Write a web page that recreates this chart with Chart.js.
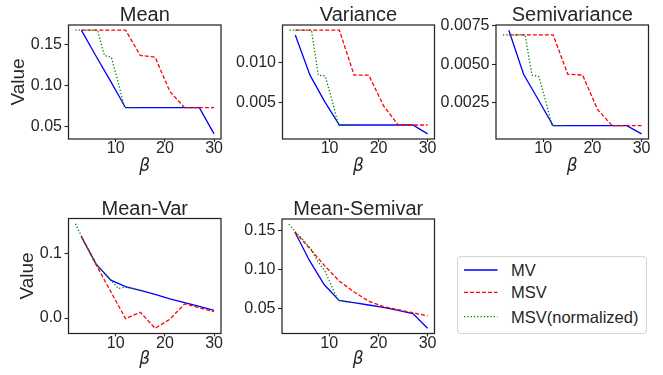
<!DOCTYPE html>
<html>
<head>
<meta charset="utf-8">
<script src="https://cdn.jsdelivr.net/npm/chart.js@4.4.1/dist/chart.umd.min.js"></script>
<style>
  body { margin: 0; background: #fff; width: 663px; height: 375px; position: relative; overflow: hidden; }
  canvas { position: absolute; }
  #legend { position: absolute; left: 457px; top: 256px; }
</style>
</head>
<body>
<svg id="legend" width="190" height="78"></svg>
<script>
// x values: beta grid for MV / MSV, and the (halved) grid for the normalized MSV
const betaGrid = [3, 6, 9, 12, 15, 18, 21, 24, 27, 30];
const betaNormGrid = [1.8, 3.3, 4.8, 6.3, 7.7, 9.1, 10.5, 11.8, 13.3, 14.8];
const seriesNames = ['MV', 'MSV', 'MSV(normalized)'];
const xTicks = [10, 20, 30];

// Mean
const meanMV   = [0.168, 0.136, 0.105, 0.073, 0.073, 0.073, 0.073, 0.073, 0.073, 0.041];
const meanMSV  = [0.168, 0.168, 0.168, 0.168, 0.137, 0.135, 0.093, 0.073, 0.073, 0.073];
const meanNorm = [0.168, 0.168, 0.168, 0.168, 0.137, 0.135, 0.104, 0.073, 0.073, 0.073];
const meanTicks = [0.05, 0.10, 0.15];

// Variance
const varMV   = [0.0134, 0.0084, 0.0051, 0.0022, 0.0022, 0.0022, 0.0022, 0.0022, 0.0022, 0.0011];
const varMSV  = [0.0140, 0.0140, 0.0140, 0.0140, 0.0084, 0.0084, 0.0046, 0.0022, 0.0022, 0.0022];
const varNorm = [0.0140, 0.0140, 0.0140, 0.0140, 0.0084, 0.0083, 0.0053, 0.0022, 0.0022, 0.0022];
const varTicks = [0.005, 0.010];

// Semivariance
const semiMV   = [0.0072, 0.00435, 0.0027, 0.00103, 0.00103, 0.00103, 0.00103, 0.00103, 0.00103, 0.0005];
const semiMSV  = [0.0069, 0.0069, 0.0069, 0.0069, 0.00435, 0.0043, 0.0021, 0.00103, 0.00103, 0.00103];
const semiNorm = [0.0069, 0.0069, 0.0069, 0.0069, 0.0043, 0.0042, 0.0026, 0.00103, 0.00103, 0.00103];
const semiTicks = [0.0025, 0.0050, 0.0075];

// Mean-Var
const mvarMV   = [0.127, 0.084, 0.059, 0.049, 0.043, 0.037, 0.030, 0.024, 0.018, 0.012];
const mvarMSV  = [0.127, 0.083, 0.041, -0.001, 0.009, -0.016, -0.002, 0.022, 0.016, 0.010];
const mvarNorm = [0.147, 0.123, 0.102, 0.081, 0.070, 0.059, 0.046, 0.048, 0.046, 0.043];
const mvarTicks = [0.0, 0.1];

// Mean-Semivar
const msemiMV   = [0.148, 0.111, 0.080, 0.060, 0.057, 0.054, 0.051, 0.047, 0.043, 0.024];
const msemiMSV  = [0.148, 0.127, 0.105, 0.085, 0.071, 0.059, 0.052, 0.048, 0.044, 0.040];
const msemiNorm = [0.158, 0.147, 0.137, 0.126, 0.110, 0.098, 0.078, 0.060, 0.058, 0.057];
const msemiTicks = [0.05, 0.10, 0.15];

const textColor = '#262626';
const sansFamily = '"Liberation Sans", Arial, sans-serif';
const lineStyles = [
  { color: '#0000ff', dash: [] },
  { color: '#ff0000', dash: [4, 2] },
  { color: '#008000', dash: [1.3, 2] }
];

// plot boxes in page pixels
const panels = [
  { title: 'Mean', mv: meanMV, msv: meanMSV, norm: meanNorm, ticks: meanTicks, digits: 2,
    box: { l: 68.5, t: 25, r: 221, b: 139 }, yLabelX: 18.5, xLabelGap: 27.5 },
  { title: 'Variance', mv: varMV, msv: varMSV, norm: varNorm, ticks: varTicks, digits: 3,
    box: { l: 282.5, t: 25, r: 434.5, b: 139 }, xLabelGap: 27.5 },
  { title: 'Semivariance', mv: semiMV, msv: semiMSV, norm: semiNorm, ticks: semiTicks, digits: 4,
    box: { l: 496, t: 25, r: 648.5, b: 139 }, xLabelGap: 27.5 },
  { title: 'Mean-Var', mv: mvarMV, msv: mvarMSV, norm: mvarNorm, ticks: mvarTicks, digits: 1,
    box: { l: 68.5, t: 218.5, r: 221, b: 333.5 }, yLabelX: 27.5, xLabelGap: 26.5 },
  { title: 'Mean-Semivar', mv: msemiMV, msv: msemiMSV, norm: msemiNorm, ticks: msemiTicks, digits: 2,
    box: { l: 282, t: 219, r: 434.5, b: 333.5 }, xLabelGap: 26.5 }
];

const pts = (xs, ys) => xs.map((x, i) => ({ x, y: ys[i] }));

const framePlugin = {
  id: 'frame',
  afterDraw(chart, args, opts) {
    const { ctx, chartArea: a } = chart;
    ctx.save();
    ctx.strokeStyle = textColor;
    ctx.lineWidth = 1.25;
    ctx.strokeRect(a.left, a.top, a.right - a.left, a.bottom - a.top);
    ctx.fillStyle = textColor;
    ctx.font = '20px ' + sansFamily;
    ctx.textAlign = 'center';
    ctx.textBaseline = 'alphabetic';
    ctx.fillText(opts.text, (a.left + a.right) / 2, a.top - 4);
    ctx.restore();
  }
};

function drawPanel(p) {
  const cx = Math.floor(p.box.l - 68), cy = Math.floor(p.box.t - 25);
  const L = p.box.l - cx, T = p.box.t - cy;
  const w = p.box.r - p.box.l, h = p.box.b - p.box.t;
  const W = Math.ceil(L + w + 10), H = Math.ceil(T + h + 42);
  const R = W - L - w, B = H - T - h;

  const cv = document.createElement('canvas');
  cv.width = W; cv.height = H;
  cv.style.left = cx + 'px'; cv.style.top = cy + 'px';
  document.body.appendChild(cv);

  const all = [...p.mv, ...p.msv, ...p.norm];
  const lo = Math.min(...all), hi = Math.max(...all), m = (hi - lo) * 0.05;
  const xs = [...betaGrid, ...betaNormGrid];
  const xlo = Math.min(...xs), xhi = Math.max(...xs), xm = (xhi - xlo) * 0.05;

  const tickFont = { family: sansFamily, size: 16, lineHeight: 0.8 };
  const gridOpts = { display: true, drawOnChartArea: false, drawTicks: true, tickLength: 4, tickColor: textColor, tickWidth: 1.1 };

  new Chart(cv, {
    type: 'line',
    data: {
      datasets: [
        { label: seriesNames[0], data: pts(betaGrid, p.mv), borderColor: lineStyles[0].color, borderDash: lineStyles[0].dash, borderWidth: 1.3, order: 2 },
        { label: seriesNames[1], data: pts(betaGrid, p.msv), borderColor: lineStyles[1].color, borderDash: lineStyles[1].dash, borderWidth: 1.3, order: 1 },
        { label: seriesNames[2], data: pts(betaNormGrid, p.norm), borderColor: lineStyles[2].color, borderDash: lineStyles[2].dash, borderWidth: 1.3, order: 0 }
      ]
    },
    options: {
      responsive: false,
      animation: false,
      devicePixelRatio: 1,
      layout: { padding: { left: 0, top: T, right: R, bottom: 0 } },
      elements: { point: { radius: 0 }, line: { tension: 0 } },
      plugins: { legend: { display: false }, tooltip: { enabled: false }, frame: { text: p.title } },
      scales: {
        x: {
          type: 'linear', min: xlo - xm, max: xhi + xm,
          grid: { ...gridOpts, tickLength: 3 },
          border: { display: false },
          ticks: { font: tickFont, color: textColor, padding: 0.5, maxRotation: 0, autoSkip: false },
          afterBuildTicks: s => { s.ticks = xTicks.map(v => ({ value: v })); },
          afterFit: s => { s.height = B; },
          title: {
            display: true, text: 'β', color: textColor,
            font: { family: '"DejaVu Sans", sans-serif', style: 'italic', size: 17, lineHeight: 1.2 },
            padding: { top: 0, bottom: B - p.xLabelGap - 10.2 }
          }
        },
        y: {
          type: 'linear', min: lo - m, max: hi + m,
          grid: gridOpts,
          border: { display: false },
          ticks: { font: tickFont, color: textColor, padding: 2.5, autoSkip: false,
                   callback: v => Number(v).toFixed(p.digits) },
          afterBuildTicks: s => { s.ticks = p.ticks.map(v => ({ value: v })); },
          afterFit: s => { s.width = L; },
          title: {
            display: p.yLabelX !== undefined, text: 'Value', color: textColor,
            font: { family: sansFamily, size: 19, lineHeight: 1.2 },
            padding: { top: (p.yLabelX || 0) - cx - 11.4, bottom: 0 }
          }
        }
      }
    },
    plugins: [framePlugin]
  });
}

panels.forEach(drawPanel);

// legend
const svg = document.getElementById('legend');
const ns = 'http://www.w3.org/2000/svg';
const frame = document.createElementNS(ns, 'rect');
frame.setAttribute('x', 0.5); frame.setAttribute('y', 0.5);
frame.setAttribute('width', 189); frame.setAttribute('height', 77);
frame.setAttribute('rx', 3.5);
frame.setAttribute('fill', '#fff'); frame.setAttribute('stroke', '#d4d4d4');
svg.appendChild(frame);
const rowY = [14, 36.3, 60.7];
seriesNames.forEach((name, i) => {
  const ln = document.createElementNS(ns, 'line');
  ln.setAttribute('x1', 7); ln.setAttribute('x2', 40.5);
  ln.setAttribute('y1', rowY[i]); ln.setAttribute('y2', rowY[i]);
  ln.setAttribute('stroke', lineStyles[i].color);
  ln.setAttribute('stroke-width', 1.3);
  if (lineStyles[i].dash.length) ln.setAttribute('stroke-dasharray', lineStyles[i].dash.join(' '));
  svg.appendChild(ln);
  const tx = document.createElementNS(ns, 'text');
  tx.setAttribute('x', 54); tx.setAttribute('y', rowY[i] + 5.8);
  tx.setAttribute('fill', textColor);
  tx.setAttribute('font-family', 'Liberation Sans, Arial, sans-serif');
  tx.setAttribute('font-size', 16.5);
  tx.textContent = name;
  svg.appendChild(tx);
});
</script>
</body>
</html>
